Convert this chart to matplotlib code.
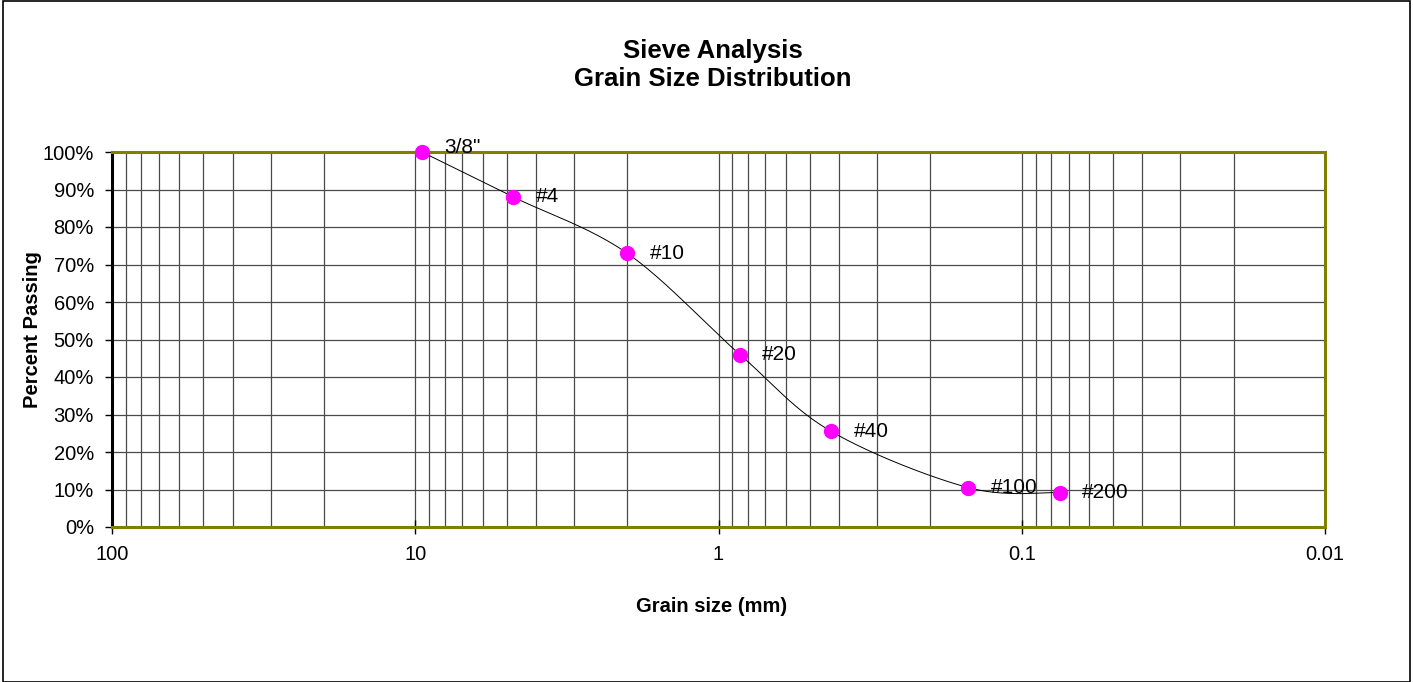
import numpy as np
import matplotlib
matplotlib.use("Agg")
import matplotlib.pyplot as plt
from matplotlib.ticker import FuncFormatter, LogLocator, MultipleLocator

plt.rcParams['font.family'] = ['Liberation Sans', 'DejaVu Sans']

# sieve data
sieves = ['3/8"', '#4', '#10', '#20', '#40', '#100', '#200']
grain_mm = [9.5, 4.75, 2.0, 0.85, 0.425, 0.15, 0.075]
passing = [1.00, 0.88, 0.73, 0.46, 0.255, 0.105, 0.092]


def smooth(xs, ys, n=40):
    # excel-like smoothed line (catmull-rom through the points, in screen-ish space)
    px = np.log10(xs) * -303.0
    py = np.array(ys) * 375.0
    pts = np.column_stack([px, py])
    out = []
    for i in range(len(pts) - 1):
        p0 = pts[i - 1] if i > 0 else pts[i]
        p1 = pts[i]
        p2 = pts[i + 1]
        p3 = pts[i + 2] if i + 2 < len(pts) else pts[i + 1]
        c1 = p1 + (p2 - p0) / 6.0
        c2 = p2 - (p3 - p1) / 6.0
        t = np.linspace(0, 1, n)[:, None]
        seg = ((1 - t) ** 3) * p1 + 3 * ((1 - t) ** 2) * t * c1 + 3 * (1 - t) * t ** 2 * c2 + t ** 3 * p2
        out.append(seg)
    out = np.vstack(out)
    return 10 ** (out[:, 0] / -303.0), out[:, 1] / 375.0


fig = plt.figure(figsize=(14.13, 6.82), dpi=100)
ax = fig.add_axes([112 / 1413, 1 - 527 / 682, (1325 - 112) / 1413, (527 - 152) / 682])

ax.set_xscale('log')
ax.set_xlim(100, 0.01)
ax.set_ylim(0, 1)

ax.xaxis.set_major_locator(LogLocator(base=10, numticks=10))
ax.xaxis.set_minor_locator(LogLocator(base=10, subs=np.arange(2, 10), numticks=20))
ax.xaxis.set_major_formatter(FuncFormatter(lambda v, p: '%g' % v))
ax.xaxis.set_minor_formatter(FuncFormatter(lambda v, p: ''))
ax.yaxis.set_major_locator(MultipleLocator(0.1))
ax.yaxis.set_major_formatter(FuncFormatter(lambda v, p: '%d%%' % round(v * 100)))

ax.grid(which='major', axis='both', color='#4a4a4a', lw=0.9)
ax.grid(which='minor', axis='x', color='#4a4a4a', lw=0.9)
ax.set_axisbelow(True)

ax.tick_params(axis='y', which='major', labelsize=14.5, length=5, width=1, color='black', pad=8)
ax.tick_params(axis='x', which='major', labelsize=14.5, direction='inout', length=10, width=1, pad=8)
ax.tick_params(axis='x', which='minor', length=0)

for s in ['top', 'bottom', 'right']:
    ax.spines[s].set_color('#808000')
    ax.spines[s].set_linewidth(2.2)
ax.spines['left'].set_color('black')
ax.spines['left'].set_linewidth(2.2)

sx, sy = smooth(grain_mm, passing)
ax.plot(sx, sy, color='black', lw=0.7, zorder=3, clip_on=False)
ax.plot(grain_mm, passing, 'o', color='#ff00ff', ms=10, zorder=4, clip_on=False)

for lab, gx, gy in zip(sieves, grain_mm, passing):
    dy = 3 if gy >= 0.99 else 0
    ax.annotate(lab, (gx, gy), xytext=(16, dy), textcoords='offset points',
                va='center', ha='left', fontsize=15, zorder=5)

fig.text(713 / 1413, 1 - 65 / 682, 'Sieve Analysis\nGrain Size Distribution',
         ha='center', va='center', fontsize=18.5, fontweight='bold', linespacing=1.22)
fig.text(712 / 1413, 1 - 606 / 682, 'Grain size (mm)', ha='center', va='center',
         fontsize=14.5, fontweight='bold')
fig.text(33 / 1413, 1 - 330 / 682, 'Percent Passing', ha='center', va='center',
         rotation=90, fontsize=14.5, fontweight='bold')

# outer chart border
fig.patches.append(plt.Rectangle((3 / 1413, 0.0), 1 - 6 / 1413, 1 - 1 / 682, transform=fig.transFigure,
                                 fill=False, edgecolor='black', lw=1.2))

fig.savefig('out.png', dpi=100)
